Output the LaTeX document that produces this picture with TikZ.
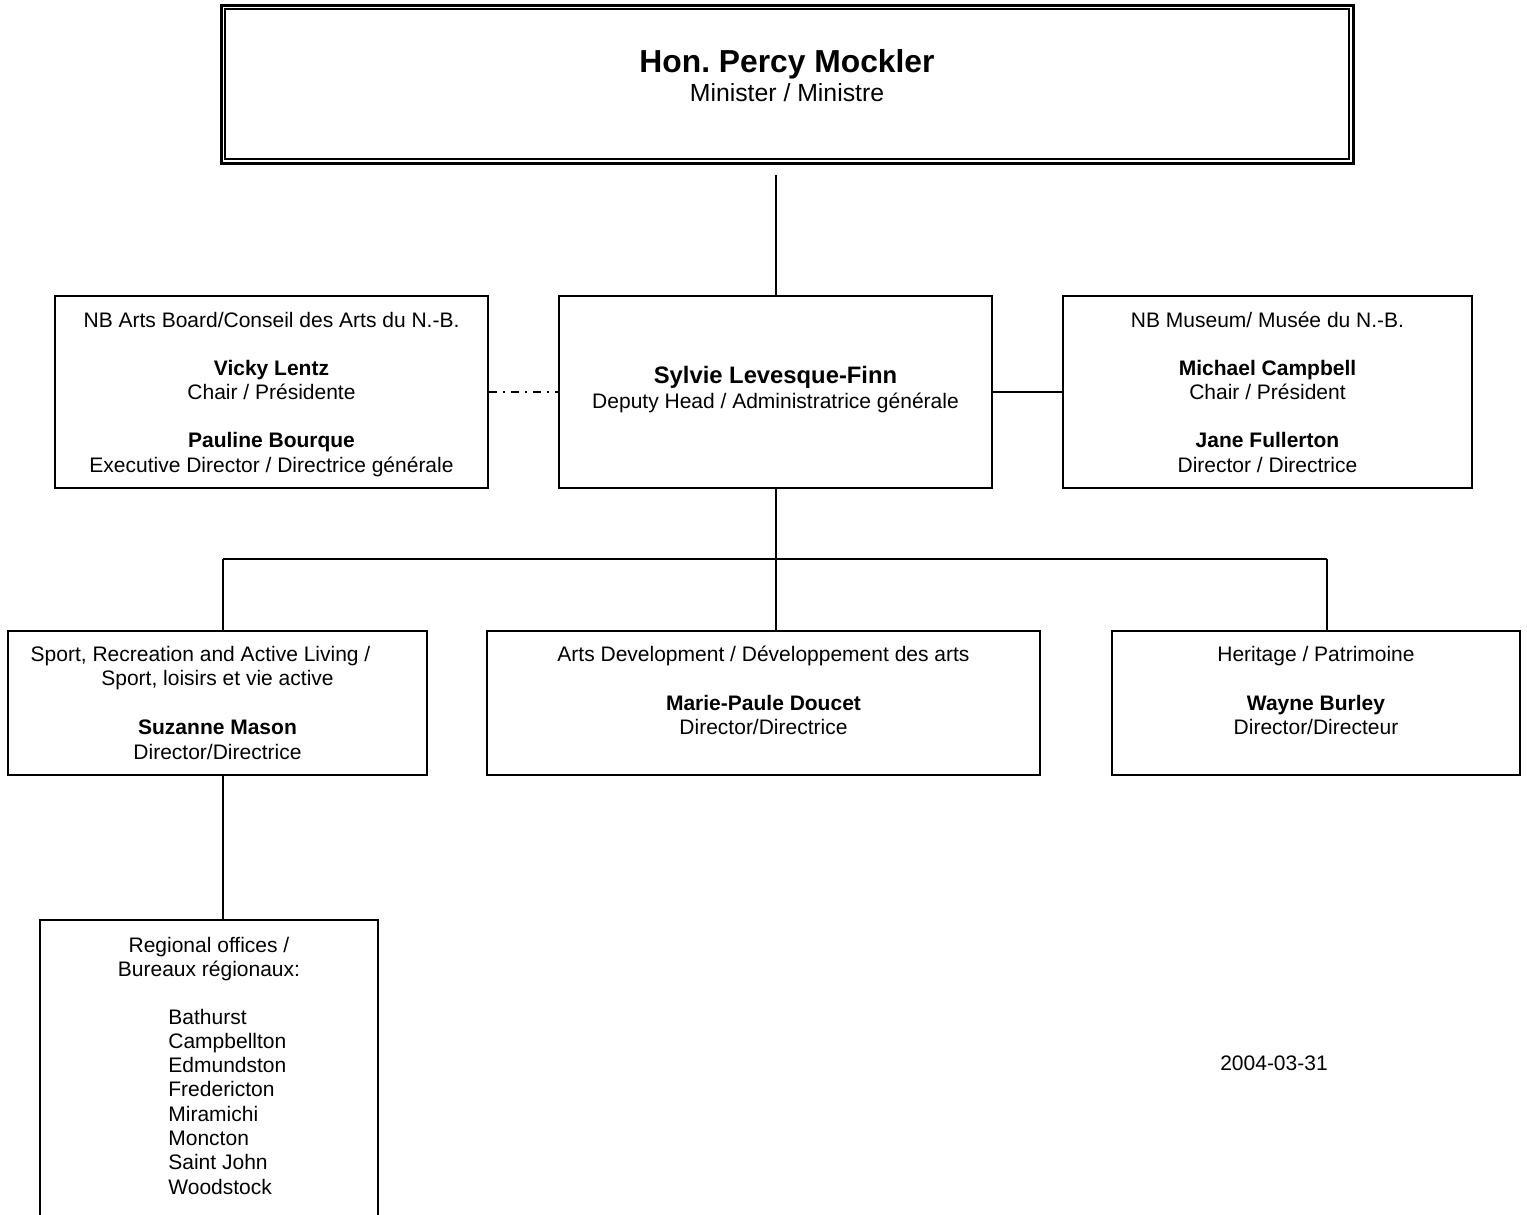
\documentclass[tikz,border=0pt]{standalone}
\usepackage{fontspec}
\setmainfont{Liberation Sans}
\frenchspacing
\tikzset{
  box/.style={draw, line width=1pt, rectangle, inner sep=0pt},
  txt/.style={anchor=base, inner sep=0pt, font=\fontsize{10.5}{12}\selectfont},
  btxt/.style={anchor=base, inner sep=0pt, font=\fontsize{10.5}{12}\selectfont\bfseries},
  ltxt/.style={anchor=base west, inner sep=0pt, font=\fontsize{10.5}{12}\selectfont},
  link/.style={line width=1pt},
  dashdot/.style={line width=1pt, dash pattern=on 4pt off 3pt on 1pt off 3pt},
}
\begin{document}
\begin{tikzpicture}[x=0.5pt, y=-0.5pt]
\useasboundingbox (0,0) rectangle (1527,1215);
\clip (0,0) rectangle (1527,1215);
\fill[white] (0,0) rectangle (1527,1215);

% Minister box (double frame)
\node[box, line width=1.5pt, minimum width=566pt, minimum height=79pt] (minister) at (787,84) {};
\node[box, line width=0.8pt, minimum width=562pt, minimum height=75pt] (ministerin) at (787,84) {};
\node[anchor=base, inner sep=0pt, font=\fontsize{15.9}{18}\selectfont\bfseries] (t1) at (787,72) {Hon. Percy Mockler};
\node[anchor=base, inner sep=0pt, font=\fontsize{12.4}{14}\selectfont] (t2) at (787,101) {Minister / Ministre};

% Second row
\node[box, minimum width=216.5pt, minimum height=96pt] (deputy) at (775.5,392) {};
\node[box, minimum width=216.5pt, minimum height=96pt] (arts) at (271.5,392) {};
\node[box, minimum width=204.5pt, minimum height=96pt] (museum) at (1267.5,392) {};

\node[anchor=base, inner sep=0pt, font=\fontsize{11.9}{14}\selectfont\bfseries] (d1) at (775.5,383) {Sylvie Levesque-Finn};
\node[txt] (d2) at (775.5,408) {Deputy Head / Administratrice générale};

\node[txt] (a1) at (271.5,327) {NB Arts Board/Conseil des Arts du N.-B.};
\node[btxt] (a2) at (271.5,375) {Vicky Lentz};
\node[txt] (a3) at (271.5,399) {Chair / Présidente};
\node[btxt] (a4) at (271.5,447.5) {Pauline Bourque};
\node[txt] (a5) at (271.5,472.5) {Executive Director / Directrice générale};

\node[txt] (m1) at (1267.5,327) {NB Museum/ Musée du N.-B.};
\node[btxt] (m2) at (1267.5,375) {Michael Campbell};
\node[txt] (m3) at (1267.5,399) {Chair / Président};
\node[btxt] (m4) at (1267.5,447.5) {Jane Fullerton};
\node[txt] (m5) at (1267.5,472.5) {Director / Directrice};

% Third row
\node[box, minimum width=209.5pt, minimum height=72pt] (sport) at (217.5,703) {};
\node[box, minimum width=276.5pt, minimum height=72pt] (artsdev) at (763.5,703) {};
\node[box, minimum width=204pt, minimum height=72pt] (heritage) at (1316,703) {};

\node[txt] (s1) at (200.5,661) {Sport, Recreation and Active Living /};
\node[txt] (s2) at (217.5,685) {Sport, loisirs et vie active};
\node[btxt] (s3) at (217.5,734) {Suzanne Mason};
\node[txt] (s4) at (217.5,759) {Director/Directrice};

\node[txt] (v1) at (763.5,661) {Arts Development / Développement des arts};
\node[btxt] (v2) at (763.5,710) {Marie-Paule Doucet};
\node[txt] (v3) at (763.5,734) {Director/Directrice};

\node[txt] (h1) at (1316,661) {Heritage / Patrimoine};
\node[btxt] (h2) at (1316,710) {Wayne Burley};
\node[txt] (h3) at (1316,734) {Director/Directeur};

% Regional offices
\node[box, minimum width=169pt, minimum height=160.5pt] (regional) at (209,1080) {};
\node[txt] (r1) at (209,952) {Regional offices /};
\node[txt] (r2) at (209,976) {Bureaux régionaux:};
\node[ltxt] (r3) at (168,1024) {Bathurst};
\node[ltxt] (r4) at (168,1048.3) {Campbellton};
\node[ltxt] (r5) at (168,1072.6) {Edmundston};
\node[ltxt] (r6) at (168,1096.9) {Fredericton};
\node[ltxt] (r7) at (168,1121.2) {Miramichi};
\node[ltxt] (r8) at (168,1145.5) {Moncton};
\node[ltxt] (r9) at (168,1169.8) {Saint John};
\node[ltxt] (r10) at (168,1194.1) {Woodstock};

\node[txt] (date) at (1274,1070) {2004-03-31};

% Connectors
\coordinate (top) at (775.5,175);
\coordinate (bus) at (775.5,559);
\coordinate (busl) at (223,559);
\coordinate (busr) at (1327,559);

\draw[link] (top) -- (deputy.north);
\draw[dashdot] (arts.east) -- (deputy.west);
\draw[link] (deputy.east) -- (museum.west);
\draw[link] (deputy.south) -- (bus);
\draw[link] (busl) -- (busr);
\draw[link] (busl) -- (busl |- sport.north);
\draw[link] (bus) -- (bus |- artsdev.north);
\draw[link] (busr) -- (busr |- heritage.north);
\draw[link] (busl |- sport.south) -- (busl |- regional.north);
\end{tikzpicture}
\end{document}
